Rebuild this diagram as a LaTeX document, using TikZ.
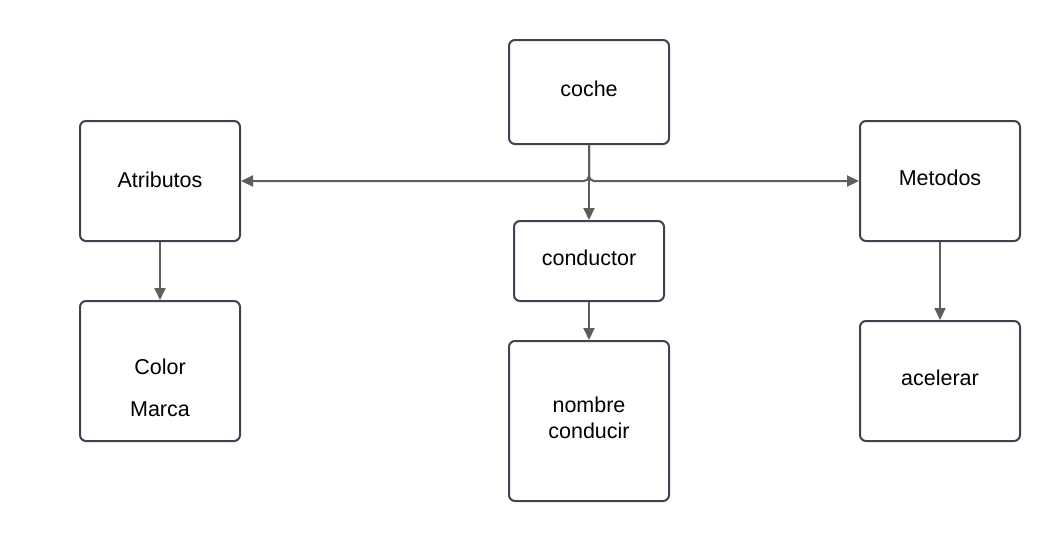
\documentclass[tikz,border=0pt]{standalone}
\usepackage{fontspec}
\setmainfont{Liberation Sans}
\usetikzlibrary{arrows.meta}
\definecolor{boxline}{HTML}{3D4350}
\definecolor{arrowcol}{HTML}{5E5E5E}
\begin{document}
\begin{tikzpicture}[x=1pt,y=-1pt,
  box/.style={draw=boxline, line width=2pt, rounded corners=6pt, fill=white,
    inner sep=0pt},
  lbl/.style={align=center, inner sep=0pt, font=\fontsize{21.5}{26}\selectfont},
  conn/.style={draw=arrowcol, line width=2pt, -{Triangle[length=12pt,width=11pt]}}]
\useasboundingbox (0,0) rectangle (1060,541);
\node[box, minimum width=160pt, minimum height=104pt,
  label={[lbl, yshift=3pt]center:coche}] (coche) at (589,92) {};
\node[box, minimum width=160pt, minimum height=120pt,
  label={[lbl, yshift=1pt]center:Atributos}] (atr) at (160,181) {};
\node[box, minimum width=160pt, minimum height=140pt,
  label={[lbl, font=\fontsize{21.5}{42}\selectfont, yshift=-17pt]center:Color\\Marca}] (color) at (160,371) {};
\node[box, minimum width=150pt, minimum height=80pt,
  label={[lbl, yshift=3pt]center:conductor}] (cond) at (589,261) {};
\node[box, minimum width=160pt, minimum height=160pt,
  label={[lbl, yshift=3pt]center:nombre\\conducir}] (nombre) at (589,421) {};
\node[box, minimum width=160pt, minimum height=120pt,
  label={[lbl, yshift=3pt]center:Metodos}] (met) at (940,181) {};
\node[box, minimum width=160pt, minimum height=120pt,
  label={[lbl, yshift=3pt]center:acelerar}] (acel) at (940,381) {};
\draw[conn, rounded corners=5pt] (coche.south) |- (atr.east);
\draw[conn, rounded corners=5pt] (coche.south) |- (met.west);
\draw[conn] (coche.south) -- (cond.north);
\draw[conn] (atr.south) -- (color.north);
\draw[conn] (cond.south) -- (nombre.north);
\draw[conn] (met.south) -- (acel.north);
\end{tikzpicture}
\end{document}
